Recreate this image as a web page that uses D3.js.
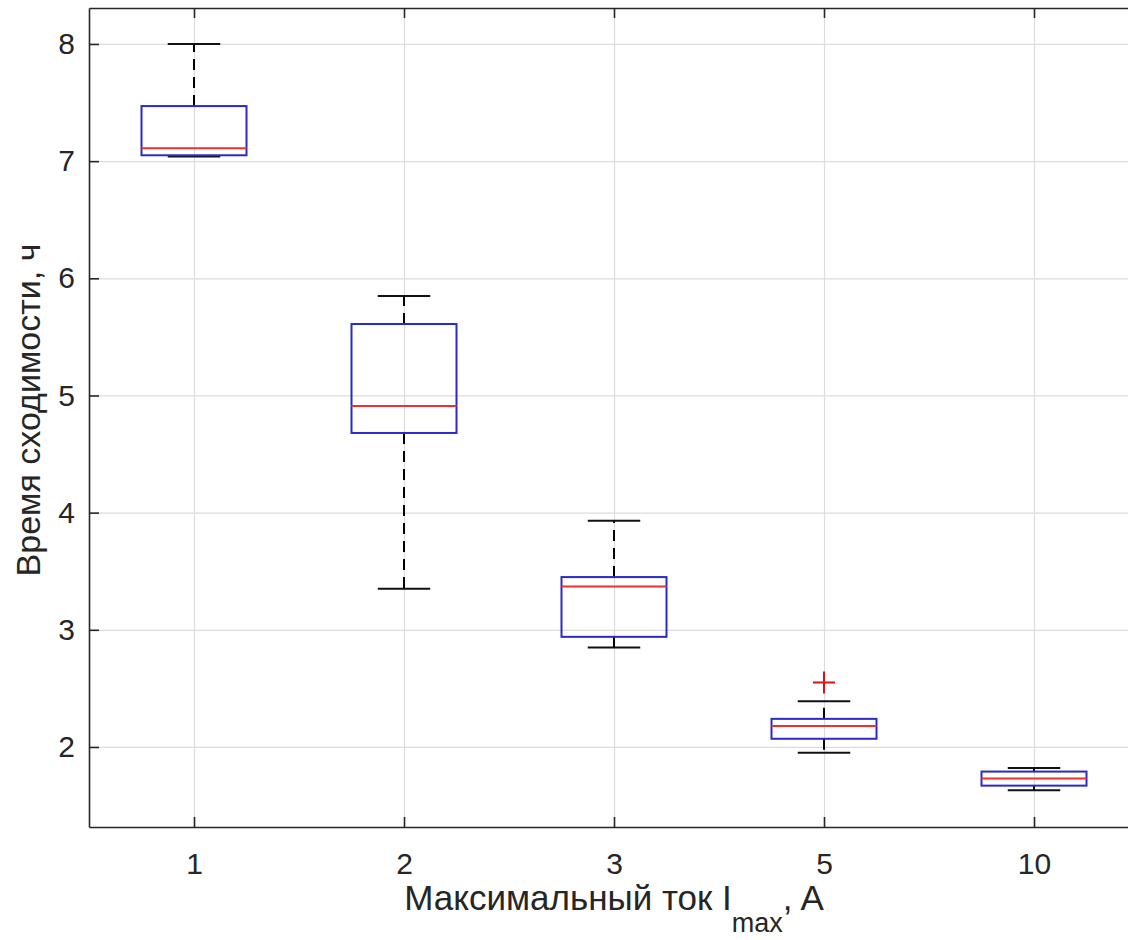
<!DOCTYPE html>
<html>
<head>
<meta charset="utf-8">
<script src="https://cdn.jsdelivr.net/npm/d3@7"></script>
<style>
  body { margin: 0; background: #fff; }
  svg { display: block; font-family: Arial, "Liberation Sans", Helvetica, sans-serif; }
  .axis path, .axis line { stroke: #262626; }
  .axis text { fill: #262626; font-size: 30px; }
  .grid line { stroke: #dcdcdc; stroke-width: 1.2; }
  .grid path { display: none; }
  .axis-title { fill: #262626; }
</style>
</head>
<body>
<svg id="chart"></svg>
<script>
// Maximum current I_max, A (categories)
const categories = ['1', '2', '3', '5', '10'];
// Box plot statistics, hours
const whiskerLow  = [7.04, 3.35, 2.85, 1.95, 1.63];
const q1          = [7.05, 4.68, 2.94, 2.07, 1.67];
const median      = [7.11, 4.91, 3.37, 2.18, 1.73];
const q3          = [7.47, 5.61, 3.45, 2.24, 1.79];
const whiskerHigh = [8.00, 5.85, 3.93, 2.39, 1.82];
const outliers    = [[], [], [], [2.55], []];
const yTicks = [2, 3, 4, 5, 6, 7, 8];

const width = 1128, height = 940;
const margin = {top: 8, left: 89, bottom: 827, right: 1139};

const svg = d3.select('#chart')
    .attr('width', width)
    .attr('height', height);

const xScale = d3.scalePoint()
    .domain(categories)
    .range([margin.left, margin.right])
    .padding(0.5);

const yScale = d3.scaleLinear()
    .domain([1.317, 8.307])
    .range([margin.bottom, margin.top]);

const boxHalf = xScale.step() * 0.25;
const capHalf = xScale.step() * 0.125;

// grid
svg.append('g')
    .attr('class', 'grid')
    .attr('transform', `translate(0,${margin.bottom})`)
    .call(d3.axisBottom(xScale).tickSize(-(margin.bottom - margin.top)).tickFormat(''));
svg.append('g')
    .attr('class', 'grid')
    .attr('transform', `translate(${margin.left},0)`)
    .call(d3.axisLeft(yScale).tickValues(yTicks).tickSize(-(margin.right - margin.left)).tickFormat(''));

const stats = categories.map((c, i) => ({
    cat: c, lo: whiskerLow[i], q1: q1[i], med: median[i], q3: q3[i], hi: whiskerHigh[i], out: outliers[i]
}));

const boxes = svg.append('g').attr('class', 'boxes')
    .selectAll('g')
    .data(stats)
    .join('g');

// whiskers (dashed)
boxes.append('line')
    .attr('x1', d => xScale(d.cat)).attr('x2', d => xScale(d.cat))
    .attr('y1', d => yScale(d.q3)).attr('y2', d => yScale(d.hi))
    .attr('stroke', '#000').attr('stroke-width', 2)
    .attr('stroke-dasharray', '11,7');
boxes.append('line')
    .attr('x1', d => xScale(d.cat)).attr('x2', d => xScale(d.cat))
    .attr('y1', d => yScale(d.q1)).attr('y2', d => yScale(d.lo))
    .attr('stroke', '#000').attr('stroke-width', 2)
    .attr('stroke-dasharray', '11,7');

// caps
['hi', 'lo'].forEach(k => {
    boxes.append('line')
        .attr('x1', d => xScale(d.cat) - capHalf).attr('x2', d => xScale(d.cat) + capHalf)
        .attr('y1', d => yScale(d[k])).attr('y2', d => yScale(d[k]))
        .attr('stroke', '#111').attr('stroke-width', 2);
});

// box
boxes.append('rect')
    .attr('x', d => xScale(d.cat) - boxHalf)
    .attr('width', boxHalf * 2)
    .attr('y', d => yScale(d.q3))
    .attr('height', d => yScale(d.q1) - yScale(d.q3))
    .attr('fill', 'none')
    .attr('stroke', '#2a2ac8')
    .attr('stroke-width', 2);

// median
boxes.append('line')
    .attr('x1', d => xScale(d.cat) - boxHalf).attr('x2', d => xScale(d.cat) + boxHalf)
    .attr('y1', d => yScale(d.med)).attr('y2', d => yScale(d.med))
    .attr('stroke', '#f03030').attr('stroke-width', 2);

// outliers
boxes.selectAll('path.out')
    .data(d => d.out.map(v => ({cat: d.cat, v})))
    .join('path')
    .attr('class', 'out')
    .attr('d', d => {
        const x = xScale(d.cat), y = yScale(d.v), s = 11;
        return `M${x - s},${y}H${x + s}M${x},${y - s}V${y + s}`;
    })
    .attr('stroke', '#e01010').attr('stroke-width', 2);

// axes (ticks point inward, like the original)
svg.append('g')
    .attr('class', 'axis x-axis')
    .attr('transform', `translate(0,${margin.bottom})`)
    .call(d3.axisBottom(xScale).tickSize(-10).tickSizeOuter(0).tickPadding(26))
    .call(g => g.selectAll('line, path').attr('stroke-width', 1.6));
svg.append('g')
    .attr('class', 'axis x-axis-top')
    .attr('transform', `translate(0,${margin.top})`)
    .call(d3.axisTop(xScale).tickSize(-10).tickSizeOuter(0).tickFormat(''))
    .call(g => g.selectAll('line, path').attr('stroke-width', 1.6));
svg.append('g')
    .attr('class', 'axis y-axis')
    .attr('transform', `translate(${margin.left},0)`)
    .call(d3.axisLeft(yScale).tickValues(yTicks).tickFormat(d3.format('d'))
        .tickSize(-10).tickSizeOuter(0).tickPadding(14))
    .call(g => g.selectAll('line, path').attr('stroke-width', 1.6));

// axis titles
const xTitle = svg.append('text')
    .attr('class', 'axis-title')
    .attr('x', (margin.left + margin.right) / 2)
    .attr('y', 910)
    .attr('text-anchor', 'middle')
    .style('font-size', '35px');
xTitle.append('tspan').text('Максимальный ток I');
xTitle.append('tspan').attr('dy', 22).style('font-size', '27px').text('max');
xTitle.append('tspan').attr('dy', -22).text(', A');

svg.append('text')
    .attr('class', 'axis-title')
    .attr('transform', `translate(40,410) rotate(-90)`)
    .attr('text-anchor', 'middle')
    .style('font-size', '34px')
    .text('Время сходимости, ч');
</script>
</body>
</html>
